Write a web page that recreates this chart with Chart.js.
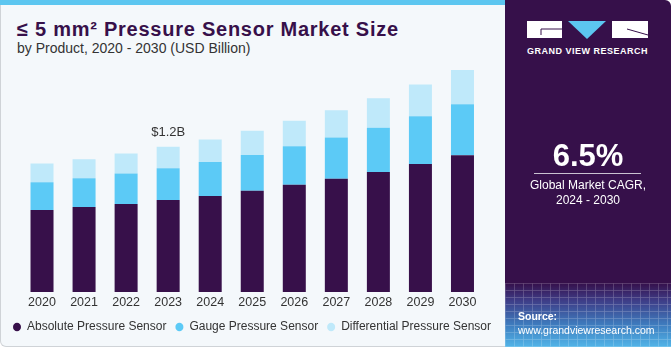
<!DOCTYPE html>
<html>
<head>
<meta charset="utf-8">
<script src="https://cdn.jsdelivr.net/npm/chart.js@4"></script>
<style>
  html, body { margin: 0; padding: 0; background: #ffffff; }
  body { width: 671px; height: 350px; position: relative; overflow: hidden; font-family: "Liberation Sans", Arial, sans-serif; }
  #panel { position: absolute; left: 0; top: 0; width: 520px; height: 347px; background: #f4f8fb;
           border: 1px solid #cfd3d7; border-top: none; border-radius: 0 0 0 6px; box-sizing: border-box; }
  #stripe { position: absolute; left: 0; top: 0; width: 520px; height: 5px; background: #5cc6f0; }
  #title { position: absolute; left: 17px; top: 18px; font-size: 20px; line-height: 22px; font-weight: bold;
           color: #37104a; letter-spacing: 0.75px; white-space: nowrap; }
  #subtitle { position: absolute; left: 17px; top: 40px; font-size: 14px; line-height: 16px; color: #333; white-space: nowrap; }
  #chart { position: absolute; left: 0; top: 61px; }
  #side { position: absolute; left: 505px; top: 0; width: 166px; height: 347px; border-radius: 0 6px 0 0;
          background: linear-gradient(to bottom, #36104a 0px, #36104a 283px, #3f3c86 300px, #3f7dbf 325px, #52b5e8 347px);
          overflow: hidden; }
  #grid { position: absolute; left: 0; top: 283px; width: 166px; height: 64px; opacity: 0.25;
          background-image: repeating-linear-gradient(90deg, rgba(255,255,255,0.7) 0 1px, transparent 1px 9px),
                            repeating-linear-gradient(0deg, rgba(255,255,255,0.7) 0 1px, transparent 1px 7px); }
  .side-text { position: absolute; left: 0; width: 166px; text-align: center; color: #fff; white-space: nowrap; }
  #gvr { top: 46px; left: 22px; width: auto; font-size: 9px; font-weight: bold; letter-spacing: 0.5px; line-height: 10px; text-align: left; }
  #cagr { top: 140px; font-size: 31px; font-weight: bold; line-height: 31px; }
  #rule { position: absolute; left: 29px; top: 173px; width: 107px; height: 1px; background: #c9c2d1; }
  #cagrLabel { top: 178px; font-size: 12px; line-height: 15px; }
  #source { top: 309px; left: 13px; text-align: left; font-size: 10.5px; line-height: 14px; }
</style>
</head>
<body>
<div id="panel"></div>
<div id="stripe"></div>
<div id="title">≤ 5 mm² Pressure Sensor Market Size</div>
<div id="subtitle">by Product, 2020 - 2030 (USD Billion)</div>
<canvas id="chart" width="530" height="282"></canvas>

<div id="side">
  <div id="grid"></div>
  <svg style="position:absolute;left:22px;top:21px" width="122" height="19" viewBox="0 0 122 19">
    <rect x="0" y="0" width="35" height="17" fill="#ffffff"/>
    <path d="M14 8 H35 M14 8 V14" stroke="#36104a" stroke-width="1" fill="none"/>
    <polygon points="41,0 79,0 60,18" fill="#5cc6f0"/>
    <rect x="85" y="0" width="36" height="17" fill="#ffffff"/>
    <path d="M100 8 L121 14" stroke="#36104a" stroke-width="1" fill="none"/>
  </svg>
  <div id="gvr" class="side-text">GRAND VIEW RESEARCH</div>
  <div id="cagr" class="side-text">6.5%</div>
  <div id="rule"></div>
  <div id="cagrLabel" class="side-text">Global Market CAGR,<br>2024 - 2030</div>
  <div id="source" class="side-text"><b>Source:</b><br>www.grandviewresearch.com</div>
</div>

<script>
// data (USD billion)
const years = ['2020', '2021', '2022', '2023', '2024', '2025', '2026', '2027', '2028', '2029', '2030'];
const absolutePressure = [0.677, 0.702, 0.727, 0.760, 0.793, 0.837, 0.886, 0.936, 0.993, 1.059, 1.131];
const gaugePressure = [0.231, 0.239, 0.253, 0.264, 0.281, 0.295, 0.320, 0.341, 0.366, 0.394, 0.421];
const differentialPressure = [0.154, 0.157, 0.165, 0.176, 0.187, 0.201, 0.209, 0.225, 0.242, 0.262, 0.283];
const seriesNames = ['Absolute Pressure Sensor', 'Gauge Pressure Sensor', 'Differential Pressure Sensor'];
const seriesColors = ['#37104a', '#5ccaf6', '#bfe9fa'];
const calloutIndex = 3;
const calloutText = '$1.2B';

const fontFamily = '"Liberation Sans", Arial, sans-serif';

// "$1.2B" above the 2023 bar
const calloutPlugin = {
    id: 'callout',
    afterDatasetsDraw(chart) {
        const ctx = chart.ctx;
        const x = chart.scales.x.getPixelForValue(calloutIndex);
        const total = absolutePressure[calloutIndex] + gaugePressure[calloutIndex] + differentialPressure[calloutIndex];
        const y = chart.scales.y.getPixelForValue(total);
        ctx.save();
        ctx.font = '13px ' + fontFamily;
        ctx.fillStyle = '#333333';
        ctx.textAlign = 'center';
        ctx.textBaseline = 'bottom';
        ctx.fillText(calloutText, x, y - 8);
        ctx.restore();
    }
};

const ctx = document.getElementById('chart').getContext('2d');
new Chart(ctx, {
    type: 'bar',
    data: {
        labels: years,
        datasets: [absolutePressure, gaugePressure, differentialPressure].map(function(values, i) {
            return {
                label: seriesNames[i],
                data: values,
                backgroundColor: seriesColors[i],
                borderWidth: 0,
                barPercentage: 0.547,
                categoryPercentage: 1
            };
        })
    },
    options: {
        responsive: false,
        animation: false,
        devicePixelRatio: 1,
        layout: { padding: { left: 4 } },
        scales: {
            x: {
                stacked: true,
                grid: { display: false, drawTicks: false },
                border: { display: false },
                ticks: {
                    padding: 6.5,
                    color: '#333333',
                    font: { family: fontFamily, size: 12.5, lineHeight: '9px' }
                },
                afterFit: function(scale) { scale.height = 20; }
            },
            y: {
                stacked: true,
                min: 0,
                max: 1.91,
                grid: { display: false, drawTicks: false },
                border: { display: false },
                ticks: { display: false },
                afterFit: function(scale) { scale.width = 17; }
            },
            yRight: {
                type: 'linear',
                position: 'right',
                grid: { display: false, drawTicks: false },
                border: { display: false },
                ticks: { display: false },
                afterFit: function(scale) { scale.width = 46.5; }
            }
        },
        plugins: {
            legend: {
                position: 'bottom',
                align: 'start',
                labels: {
                    usePointStyle: true,
                    pointStyle: 'circle',
                    boxHeight: 6,
                    pointStyleWidth: 8,
                    padding: 9,
                    color: '#333333',
                    font: { family: fontFamily, size: 12 }
                }
            },
            tooltip: { enabled: false }
        }
    },
    plugins: [calloutPlugin]
});
</script>
</body>
</html>
